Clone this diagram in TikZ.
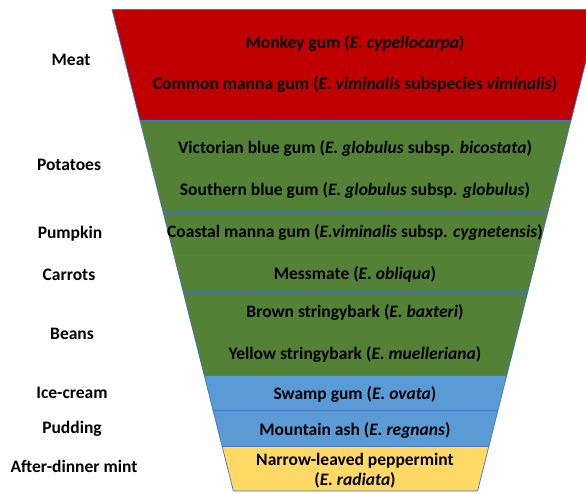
\documentclass[tikz,border=0pt]{standalone}
\usepackage{fontspec}
\setmainfont{Carlito}
\definecolor{meatred}{HTML}{C00000}
\definecolor{vegreen}{HTML}{538135}
\definecolor{desblue}{HTML}{5B9BD5}
\definecolor{mintyel}{HTML}{FFD966}
\definecolor{sepline}{HTML}{4472C4}
\begin{document}
\begin{tikzpicture}[x=1pt,y=-1pt,
  band/.style={draw=sepline, line width=0.7pt},
  txt/.style={font=\fontsize{17.5}{20}\selectfont\bfseries, anchor=base, inner sep=0pt, text=black},
  lft/.style={txt}]
\useasboundingbox (0,0) rectangle (586,494);
\begin{scope}
\clip (0,0) rectangle (586,494);
% boundary coordinates
\coordinate (l0) at (112,9.5);   \coordinate (r0) at (599,9.5);
\coordinate (l1) at (139.9,120); \coordinate (r1) at (571.1,120);
\coordinate (l2) at (163.0,212); \coordinate (r2) at (547.9,212);
\coordinate (l3) at (173.9,255); \coordinate (r3) at (537.1,255);
\coordinate (l4) at (183.2,292); \coordinate (r4) at (527.8,292);
\coordinate (l5) at (204.1,375); \coordinate (r5) at (506.9,375);
\coordinate (l6) at (213.0,410); \coordinate (r6) at (498.0,410);
\coordinate (l7) at (222.0,446); \coordinate (r7) at (489.0,446);
\coordinate (l8) at (233.4,491); \coordinate (r8) at (477.6,491);
\fill[meatred] (l0) -- (r0) -- (r1) -- (l1) -- cycle;
\fill[vegreen] (l1) -- (r1) -- (r5) -- (l5) -- cycle;
\fill[desblue] (l5) -- (r5) -- (r7) -- (l7) -- cycle;
\fill[mintyel] (l7) -- (r7) -- (r8) -- (l8) -- cycle;
\foreach \i in {1,...,7} {\draw[band] (l\i) -- (r\i);}
\draw[band] (l0) -- (r0) -- (r8) -- (l8) -- cycle;
\end{scope}
% band texts
\node[txt] (t1) at (355,48.5) {Monkey gum (\textit{E. cypellocarpa})};
\node[txt] (t2) at (355,90) {Common manna gum (\textit{E. viminalis} subspecies \textit{viminalis})};
\node[txt] (t3) at (355,153.3) {Victorian blue gum (\textit{E. globulus} subsp. \textit{bicostata})};
\node[txt] (t4) at (355,195.7) {Southern blue gum (\textit{E. globulus} subsp. \textit{globulus})};
\node[txt] (t5) at (355,237.3) {Coastal manna gum (\textit{E.viminalis} subsp. \textit{cygnetensis})};
\node[txt] (t6) at (355,279.3) {Messmate (\textit{E. obliqua})};
\node[txt] (t7) at (355,317.3) {Brown stringybark (\textit{E. baxteri})};
\node[txt] (t8) at (355,359.3) {Yellow stringybark (\textit{E. muelleriana})};
\node[txt] (t9) at (355,399) {Swamp gum (\textit{E. ovata})};
\node[txt] (t10) at (355,435) {Mountain ash (\textit{E. regnans})};
\node[txt] (t11) at (355,465) {Narrow-leaved peppermint};
\node[txt] (t12) at (355,485) {(\textit{E. radiata})};
% left labels
\node[lft] (c1) at (71,66) {Meat};
\node[lft] (c2) at (69,171) {Potatoes};
\node[lft] (c3) at (70,238.3) {Pumpkin};
\node[lft] (c4) at (69,280) {Carrots};
\node[lft] (c5) at (72,339) {Beans};
\node[lft] (c6) at (72,398.3) {Ice-cream};
\node[lft] (c7) at (72,433.3) {Pudding};
\node[lft] (c8) at (74,472.3) {After-dinner mint};
\end{tikzpicture}
\end{document}
